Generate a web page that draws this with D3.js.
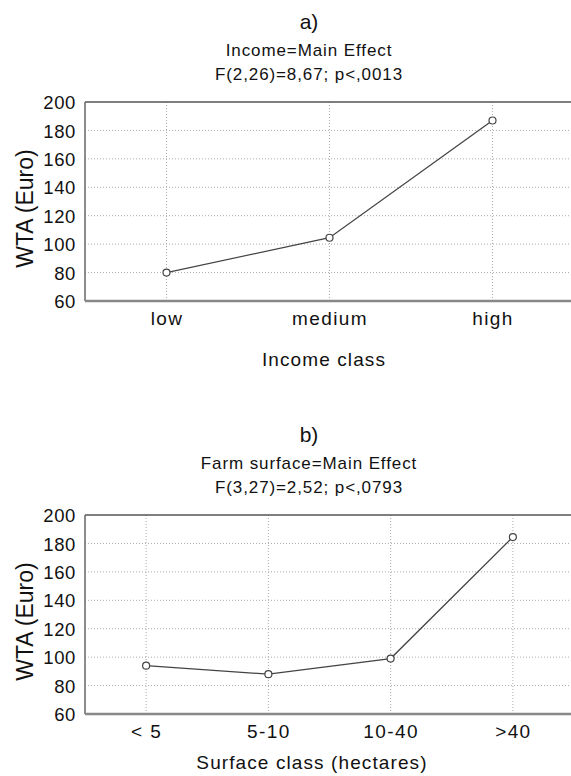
<!DOCTYPE html>
<html>
<head>
<meta charset="utf-8">
<script src="https://cdn.jsdelivr.net/npm/d3@7"></script>
<style>
  html, body { margin: 0; padding: 0; background: #fff; }
  svg { display: block; font-family: "Liberation Sans", Arial, sans-serif; }
</style>
</head>
<body>
<svg id="chart" width="571" height="776"></svg>
<script>
// ---- data ----
const incomeCategories = ["low", "medium", "high"];
const incomeValues = [80, 104.5, 187];
const surfaceCategories = ["< 5", "5-10", "10-40", ">40"];
const surfaceValues = [94, 88, 99, 184.5];
const yTicks = [60, 80, 100, 120, 140, 160, 180, 200];
const panelA = { label: "a)", subtitle: "Income=Main Effect", stat: "F(2,26)=8,67; p<,0013", xTitle: "Income class", yTitle: "WTA (Euro)" };
const panelB = { label: "b)", subtitle: "Farm surface=Main Effect", stat: "F(3,27)=2,52; p<,0793", xTitle: "Surface class (hectares)", yTitle: "WTA (Euro)" };

const svg = d3.select("#chart");

function drawPanel(top, cats, vals, meta, xTitleY, xTitleX) {
  const left = 85, right = 574, bottom = top + 199;
  const g = svg.append("g");
  const x = d3.scalePoint().domain(cats).range([left, right]).padding(0.5);
  const y = d3.scaleLinear().domain([60, 200]).range([bottom, top]);

  // titles
  const cx = 309;
  g.append("text").attr("x", cx).attr("y", top - 73).attr("text-anchor", "middle")
    .attr("fill", "#111").style("font-size", "21px").text(meta.label);
  g.append("text").attr("x", cx).attr("y", top - 46).attr("text-anchor", "middle")
    .attr("fill", "#111").style("font-size", "17px").style("letter-spacing", "0.9px").text(meta.subtitle);
  g.append("text").attr("x", cx).attr("y", top - 22).attr("text-anchor", "middle")
    .attr("fill", "#111").style("font-size", "17px").style("letter-spacing", "0.9px").text(meta.stat);

  // grid
  g.append("g").selectAll("line.h").data(yTicks.slice(1, -1)).join("line")
    .attr("x1", left).attr("x2", right).attr("y1", d => y(d)).attr("y2", d => y(d))
    .attr("stroke", "#aaa").attr("stroke-width", 1).attr("stroke-dasharray", "1,2");
  g.append("g").selectAll("line.v").data(cats).join("line")
    .attr("x1", d => x(d)).attr("x2", d => x(d)).attr("y1", top).attr("y2", bottom)
    .attr("stroke", "#aaa").attr("stroke-width", 1).attr("stroke-dasharray", "1,2");

  // frame
  g.append("line").attr("x1", left).attr("x2", right).attr("y1", top).attr("y2", top)
    .attr("stroke", "#555").attr("stroke-width", 1.5);
  g.append("line").attr("x1", left).attr("x2", left).attr("y1", top).attr("y2", bottom)
    .attr("stroke", "#666").attr("stroke-width", 1.5);
  g.append("line").attr("x1", left).attr("x2", right).attr("y1", bottom).attr("y2", bottom)
    .attr("stroke", "#888").attr("stroke-width", 2.5);

  // y axis labels
  const yAxis = d3.axisLeft(y).tickValues(yTicks).tickSize(0).tickPadding(9);
  const ya = g.append("g").attr("transform", `translate(${left},0)`).call(yAxis);
  ya.select(".domain").remove();
  ya.selectAll("text").style("font-size", "18.5px").style("letter-spacing", "0.6px")
    .attr("fill", "#111").attr("dy", "0.36em").attr("font-family", null);

  // x axis labels
  const xAxis = d3.axisBottom(x).tickSize(0).tickPadding(0);
  const xa = g.append("g").attr("transform", `translate(0,${bottom})`).call(xAxis);
  xa.select(".domain").remove();
  xa.selectAll("text").style("font-size", "19px").style("letter-spacing", "1.4px")
    .attr("fill", "#111").attr("dy", null).attr("y", 24).attr("font-family", null);

  // axis titles
  g.append("text").attr("x", xTitleX).attr("y", xTitleY).attr("text-anchor", "middle")
    .attr("fill", "#111").style("font-size", "19px").style("letter-spacing", "1.1px").text(meta.xTitle);
  g.append("text").attr("transform", `translate(33,${(top + bottom) / 2 + 7}) rotate(-90)`)
    .attr("fill", "#111").attr("text-anchor", "middle").style("font-size", "23px").text(meta.yTitle);

  // line + markers
  const pts = cats.map((c, i) => [x(c), y(vals[i])]);
  g.append("path").datum(pts).attr("d", d3.line())
    .attr("fill", "none").attr("stroke", "#444").attr("stroke-width", 1.3);
  g.append("g").selectAll("circle").data(pts).join("circle")
    .attr("cx", d => d[0]).attr("cy", d => d[1]).attr("r", 3.5)
    .attr("fill", "#fff").attr("stroke", "#444").attr("stroke-width", 1.2);
}

drawPanel(102, incomeCategories, incomeValues, panelA, 366, 324);
drawPanel(515, surfaceCategories, surfaceValues, panelB, 769, 312);
</script>
</body>
</html>
